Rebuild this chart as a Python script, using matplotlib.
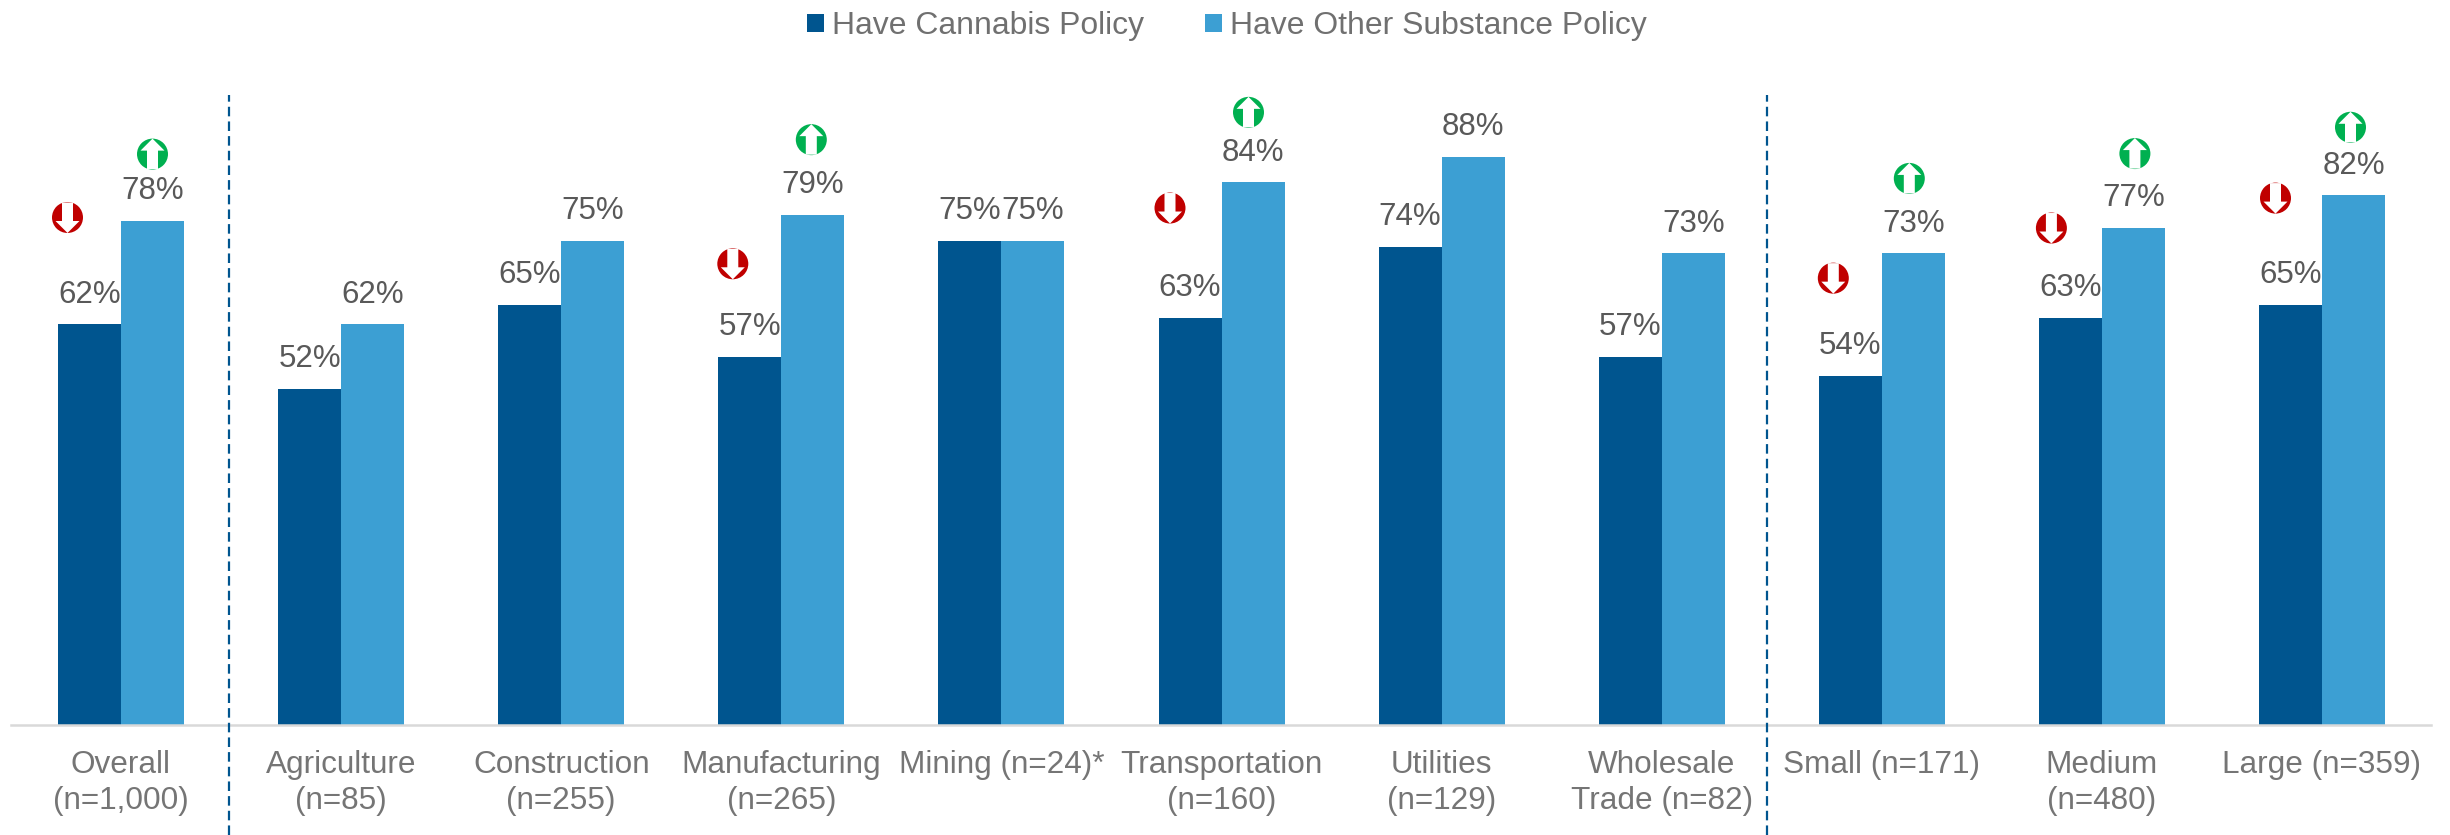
import matplotlib
matplotlib.use('Agg')
import matplotlib.pyplot as plt
import numpy as np
from matplotlib.patches import Circle, Polygon
from matplotlib.transforms import IdentityTransform

plt.rcParams['font.family'] = ['Liberation Sans', 'DejaVu Sans']

categorias = ['Overall\n(n=1,000)', 'Agriculture\n(n=85)', 'Construction\n(n=255)',
              'Manufacturing\n(n=265)', 'Mining (n=24)*', 'Transportation\n(n=160)',
              'Utilities\n(n=129)', 'Wholesale\nTrade (n=82)', 'Small (n=171)',
              'Medium\n(n=480)', 'Large (n=359)']
cannabis = [62, 52, 65, 57, 75, 63, 74, 57, 54, 63, 65]
otras = [78, 62, 75, 79, 75, 84, 88, 73, 73, 77, 82]

# grupos con flecha de diferencia significativa
grupos_flecha = [0, 3, 5, 8, 9, 10]

AZUL_OSCURO = '#00558f'
AZUL_CLARO = '#3c9fd3'

W, H = 2450, 835
fig = plt.figure(figsize=(W / 100, H / 100), dpi=100, facecolor='white')
# eje en pixeles: de x=11 a x=2431, base en y=725
ax = fig.add_axes([11 / W, (H - 725) / H, (2431 - 11) / W, 725 / H])

x = np.arange(len(categorias))
ancho = 63 / 220.1
b1 = ax.bar(x - ancho / 2, cannabis, ancho, color=AZUL_OSCURO, label='Have Cannabis Policy')
b2 = ax.bar(x + ancho / 2, otras, ancho, color=AZUL_CLARO, label='Have Other Substance Policy')

ax.set_xlim((11 - 121) / 220.1, (2431 - 121) / 220.1)
ax.set_ylim(0, 725 / 6.46)

for s in ['top', 'right', 'left']:
    ax.spines[s].set_visible(False)
ax.spines['bottom'].set_color('#d9d9d9')
ax.spines['bottom'].set_linewidth(1.8)
ax.set_yticks([])
ax.set_xticks(x)
ax.set_xticklabels(categorias, fontsize=22.7, color='#757575', linespacing=1.28)
ax.tick_params(axis='x', length=0, pad=18)

for i in x:
    ax.annotate(f'{cannabis[i]}%', (i - ancho / 2, cannabis[i]), xytext=(0, 15.6),
                textcoords='offset points', ha='center', va='baseline',
                fontsize=22.5, color='#595959')
    ax.annotate(f'{otras[i]}%', (i + ancho / 2, otras[i]), xytext=(0, 15.6),
                textcoords='offset points', ha='center', va='baseline',
                fontsize=22.5, color='#595959')

# separadores
for xs in [0.489, 7.478]:
    ax.plot([xs, xs], [-17, 97.5], color=AZUL_OSCURO, lw=1.6, linestyle=(0, (4.3, 2.3)),
            clip_on=False, zorder=5)

leyenda = ax.legend(handles=[b1, b2], loc='center', bbox_to_anchor=(0.5024, 0.964), ncol=2, frameon=False,
                    fontsize=22.95, labelcolor='#707070', handlelength=0.53, handleheight=0.5,
                    handletextpad=0.25, columnspacing=1.9, borderpad=0)


def flecha(px, py, color, arriba):
    # circulo con flecha blanca, en pixeles de la figura
    r = 15.5
    s = 1 if arriba else -1
    fig.add_artist(Circle((px, py), r, facecolor=color, edgecolor='none',
                          transform=IdentityTransform()))
    pts = [(0, 15.5), (-12, 3.5), (-5.5, 3.5), (-5.5, -15), (5.5, -15), (5.5, 3.5), (12, 3.5)]
    fig.add_artist(Polygon([(px + a, py + s * b) for a, b in pts], closed=True,
                           facecolor='white', edgecolor='none',
                           transform=IdentityTransform()))


# separacion (px) de cada flecha respecto a su barra
sep_baja = [107, 93, 110, 98, 90, 107]
dx_baja = [-22, -17, -20, -17, -19, -15]
sep_sube = [67, 75, 70, 75, 74, 68]
dx_sube = [0, -1.5, -4.5, -4, 1.5, -3]

fig.canvas.draw()
for k, i in enumerate(grupos_flecha):
    px, py = ax.transData.transform((i - ancho / 2, cannabis[i]))
    flecha(px + dx_baja[k], py + sep_baja[k], '#c00000', False)
    px, py = ax.transData.transform((i + ancho / 2, otras[i]))
    flecha(px + dx_sube[k], py + sep_sube[k], '#00b050', True)

fig.savefig('out.png', dpi=100)
